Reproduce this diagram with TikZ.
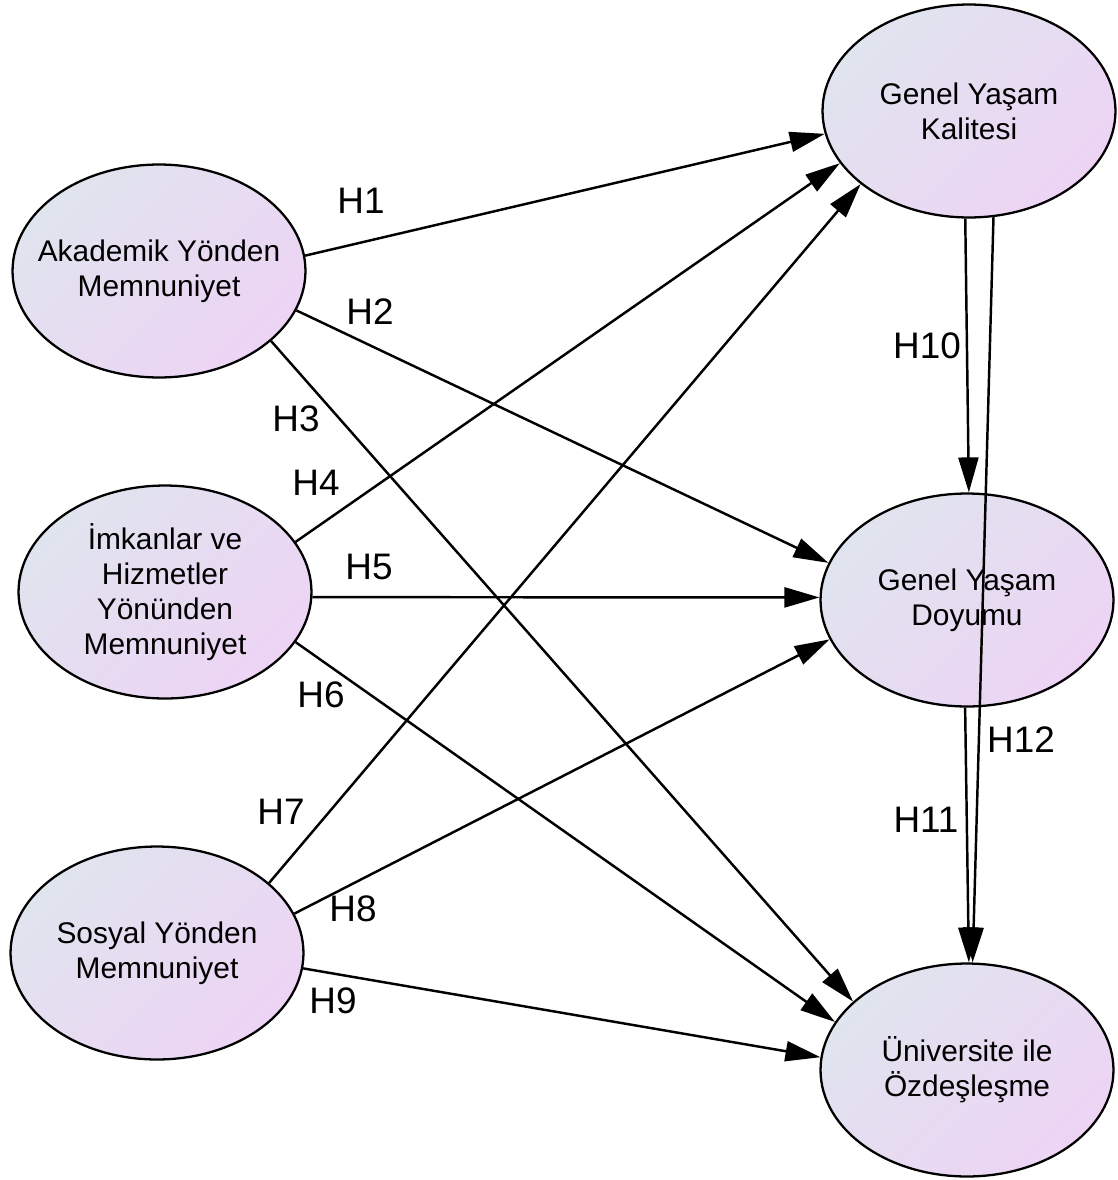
\documentclass[tikz,border=0pt]{standalone}
\usepackage{fontspec}
\setmainfont{Liberation Sans}
\usepackage{xcolor}
\usepackage{tikz}
\usetikzlibrary{positioning}
\usetikzlibrary{shapes,arrows.meta}
\definecolor{shadeA}{RGB}{224,228,238}
\definecolor{shadeB}{RGB}{237,212,245}
\tikzstyle{latent} = [ellipse, draw, line width=1.3pt, top color=shadeA, bottom color=shadeB,
shading angle=45, minimum width=5.86cm, minimum height=4.26cm, inner xsep=-1.3cm, inner ysep=0pt,
align=center, font=\fontsize{17}{20}\selectfont]
\tikzstyle{line} = [draw, line width=1.4pt, -{Triangle[length=0.7cm,width=0.4cm]}]
\tikzstyle{hyp} = [inner sep=0pt, font=\fontsize{21}{24}\selectfont]

\begin{document}
\begin{tikzpicture}[x=0.02cm, y=-0.02cm]
  \useasboundingbox (0,0) rectangle (1118,1180);

          % Place nodes
    \node [latent] (ak) at (159,271) {Akademik Yönden\\Memnuniyet};
    \node [latent] (im) at (165,592) {İmkanlar ve\\Hizmetler\\Yönünden\\Memnuniyet};
    \node [latent] (so) at (157,953) {Sosyal Yönden\\Memnuniyet};
    \node [latent] (gk) at (969,111) {Genel Yaşam\\Kalitesi};
    \node [latent] (gd) at (967,600) {Genel Yaşam\\Doyumu};
    \node [latent] (un) at (967,1070) {Üniversite ile\\Özdeşleşme};
    % edges
         \path [line] (ak.6) -- (gk.189);
         \path [line] (ak.344.5) -- (gd.165);
         \path [line] (ak.328) -- (un.149.5);
         \path [line] (im.21) -- (gk.202);
         \path [line] (im.358.5) -- (gd.179);
         \path [line] (im.339) -- (un.160);
         \path [line] (so.32) -- (gk.214);
         \path [line] (so.16) -- (gd.196);
         \path [line] (so.354) -- (un.175);
         \path [line] (gk.268.4) -- (gd.89.5);
         \path [line] (gd.269.5) -- (un.89.5);
         \path [line] (gk.283) -- (un.87);
    % labels
    \node [hyp] (h1) at (361,201) {H1};
    \node [hyp] (h2) at (370,312) {H2};
    \node [hyp] (h3) at (296,419) {H3};
    \node [hyp] (h4) at (316,483) {H4};
    \node [hyp] (h5) at (369,567) {H5};
    \node [hyp] (h6) at (321,695) {H6};
    \node [hyp] (h7) at (281,812) {H7};
    \node [hyp] (h8) at (353,909) {H8};
    \node [hyp] (h9) at (333,1001) {H9};
    \node [hyp] (h10) at (927,346) {H10};
    \node [hyp] (h11) at (926,820) {H11};
    \node [hyp] (h12) at (1021,740) {H12};
  \end{tikzpicture}
\end{document}
